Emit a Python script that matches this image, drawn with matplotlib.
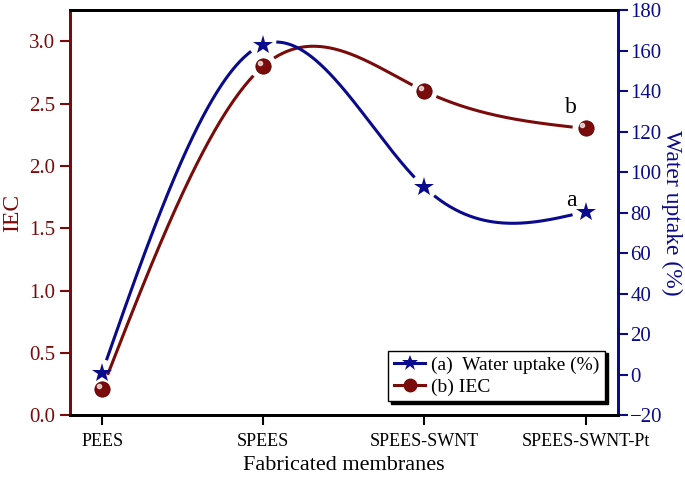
import matplotlib
matplotlib.use("Agg")
import matplotlib.pyplot as plt
import numpy as np

membranes = ["PEES", "SPEES", "SPEES-SWNT", "SPEES-SWNT-Pt"]
iec = [0.21, 2.80, 2.60, 2.30]
water_uptake = [1.0, 163.0, 92.5, 80.5]

RED = "#7b0a0a"
BLUE = "#0a0a8c"


def natural_spline(x, y, n=400):
    """Natural cubic spline through the points (like Origin's spline line)."""
    x = np.asarray(x, float)
    y = np.asarray(y, float)
    m = len(x)
    h = np.diff(x)
    A = np.zeros((m, m))
    r = np.zeros(m)
    A[0, 0] = A[-1, -1] = 1
    for i in range(1, m - 1):
        A[i, i - 1] = h[i - 1]
        A[i, i] = 2 * (h[i - 1] + h[i])
        A[i, i + 1] = h[i]
        r[i] = 6 * ((y[i + 1] - y[i]) / h[i] - (y[i] - y[i - 1]) / h[i - 1])
    M = np.linalg.solve(A, r)
    xs = np.linspace(x[0], x[-1], n)
    idx = np.clip(np.searchsorted(x, xs) - 1, 0, m - 2)
    x0, x1 = x[idx], x[idx + 1]
    hh = x1 - x0
    ys = (M[idx] * (x1 - xs) ** 3 / (6 * hh) + M[idx + 1] * (xs - x0) ** 3 / (6 * hh)
          + (y[idx] / hh - M[idx] * hh / 6) * (x1 - xs)
          + (y[idx + 1] / hh - M[idx + 1] * hh / 6) * (xs - x0))
    return xs, ys


def gapped(xs, ys, px, py, sx, sy, gap=14):
    """Blank the curve near each marker (sx, sy = pixels per data unit)."""
    ys = ys.copy()
    for a, b in zip(px, py):
        d = np.hypot((xs - a) * sx, (ys - b) * sy)
        ys[d < gap] = np.nan
    return ys


plt.rcParams["font.family"] = "Liberation Serif"

fig, ax = plt.subplots(figsize=(6.85, 4.8), dpi=100)
fig.subplots_adjust(left=0.102, right=0.902, top=0.979, bottom=0.135)
ax2 = ax.twinx()

x = np.arange(len(membranes))
ax.set_xlim(-0.2, 3.2)
ax.set_ylim(0, 3.25)
ax2.set_ylim(-20, 180)

sx = 548 / 3.4
sy_iec = 405 / 3.25
sy_wu = 405 / 200

xs, ys = natural_spline(x, iec)
ax.plot(xs, gapped(xs, ys, x, iec, sx, sy_iec), color=RED, lw=2.2)
ax.plot(x, iec, "o", color=RED, ms=11, mec="#5a0000", mew=0.6)
ax.plot(x - 0.02, np.array(iec) + 0.025, "o", color="white", ms=3, alpha=0.7)

xs, ys = natural_spline(x, water_uptake)
ax2.plot(xs, gapped(xs, ys, x, water_uptake, sx, sy_wu), color=BLUE, lw=2.2)
ax2.plot(x, water_uptake, "*", color=BLUE, ms=15, mew=0)

# legend handles
h1, = ax.plot([], [], color=BLUE, lw=2.2, marker="*", ms=12, mew=0,
              label="(a)  Water uptake (%)")
h2, = ax.plot([], [], color=RED, lw=2.2, marker="o", ms=9,
              label="(b) IEC")
leg = ax2.legend(handles=[h1, h2], loc="lower right", bbox_to_anchor=(0.995, 0.01),
                 fontsize=14, frameon=True, fancybox=False, shadow={"color": "black", "alpha": 1},
                 handlelength=1.6, handletextpad=0.3, borderpad=0.3, labelspacing=0.2)
leg.get_frame().set_edgecolor("black")
leg.get_frame().set_linewidth(1.0)

ax.text(2.91, 2.47, "b", fontsize=17, ha="center", va="center")
ax2.text(2.91, 86, "a", fontsize=17, ha="center", va="center")

ax.set_xticks(x)
ax.set_xticklabels(membranes, fontsize=13)
ax.set_xlabel("Fabricated membranes", fontsize=16, labelpad=4)
ax.set_ylabel("IEC", fontsize=17, color=RED)
ax2.set_ylabel("Water uptake (%)", fontsize=17, color=BLUE, rotation=270, labelpad=14)

ax.set_yticks(np.arange(0, 3.01, 0.5))
ax.set_yticklabels([f"{v:.1f}" for v in np.arange(0, 3.01, 0.5)])
ax2.set_yticks(np.arange(-20, 181, 20))

ax.tick_params(axis="y", colors=RED, labelsize=15, direction="out", length=7, width=1.5)
ax.tick_params(axis="x", direction="out", length=7, width=1.5, pad=6)
ax2.tick_params(axis="y", colors=BLUE, labelsize=15, direction="out", length=7, width=1.5, pad=2)

for a in (ax, ax2):
    a.spines["left"].set_color(RED)
    a.spines["right"].set_color(BLUE)
    for s in a.spines.values():
        s.set_linewidth(2)

fig.savefig("out.png", dpi=100)
